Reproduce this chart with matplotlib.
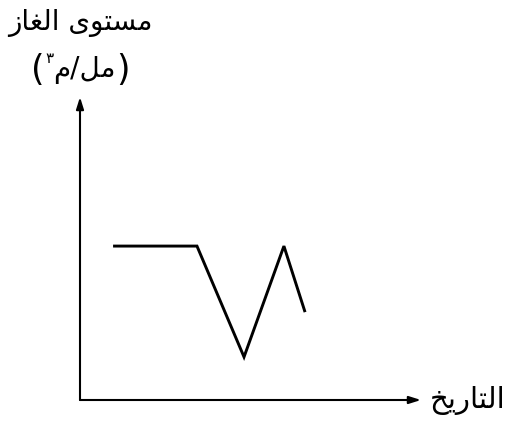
import matplotlib
matplotlib.use("Agg")
import matplotlib.pyplot as plt

# readings of gas level over time (arbitrary units, no ticks on chart)
dates = [0.97, 3.43, 4.81, 5.98, 6.6]
gas_level = [5.08, 5.08, 1.42, 5.08, 2.9]

# Arabic labels, pre-shaped into presentation forms, in visual (left-to-right) order
ylabel_line1 = "\uFEAF\uFE8E\uFED0\uFEDF\uFE8D \uFEEF\uFEEE\uFE98\uFEB4\uFEE3"  # مستوى الغاز
ylabel_unit = "\uFEE1/\uFEDE\uFEE3"   # مل/م
unit_power = "\u0663"                 # ٣
xlabel = "\uFEA6\uFEF3\uFEAD\uFE8E\uFE98\uFEDF\uFE8D"  # التاريخ

plt.rcParams['font.family'] = ['DejaVu Sans']
W, H = 507, 427

fig = plt.figure(figsize=(W / 100, H / 100), dpi=100)
ax = fig.add_axes([80 / W, (H - 401) / H, 341 / W, 303 / H])
ax.set_xlim(0, 10)
ax.set_ylim(0, 10)
ax.axis("off")

ax.plot(dates, gas_level, color="black", lw=2.1, solid_joinstyle="miter",
        solid_capstyle="butt")

# axis arrows
arrow = dict(arrowstyle="-|>,head_length=0.7,head_width=0.22", color="black", lw=1.5,
             shrinkA=0, shrinkB=0)
ax.annotate("", xy=(1, 0), xytext=(0, 0), xycoords="axes fraction", arrowprops=arrow)
ax.annotate("", xy=(0, 1), xytext=(0, 0), xycoords="axes fraction", arrowprops=arrow)

# labels
fs = 20
fig.text(80 / W, 1 - 23 / H, ylabel_line1, ha="center", va="center", fontsize=fs)
fig.text(505 / W, 1 - 401 / H, xlabel, ha="right", va="center", fontsize=fs + 1)

# unit line "(مل/م³)" built piece by piece so the power sits raised
renderer = fig.canvas.get_renderer()
inv = fig.transFigure.inverted()
yc = 1 - 70 / H
pieces = [("(", yc, fs + 5, 0), (unit_power, 1 - 59 / H, 11, 1), (ylabel_unit, yc, fs, 0),
          (")", yc, fs + 5, 0)]
texts = []
x = 0
for s, y, size, gap in pieces:
    t = fig.text(x + gap / W, y, s, ha="left", va="center", fontsize=size)
    x = inv.transform(t.get_window_extent(renderer))[1][0]
    texts.append(t)
shift = 80 / W - x / 2
for t in texts:
    t.set_x(t.get_position()[0] + shift)

fig.savefig("out.png", dpi=100, facecolor="white")
